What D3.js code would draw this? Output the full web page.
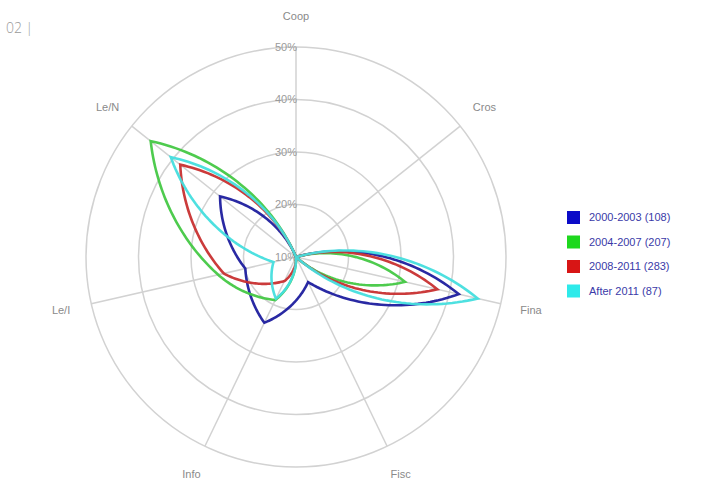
<!DOCTYPE html>
<html><head><meta charset="utf-8">
<script src="https://cdn.jsdelivr.net/npm/d3@7"></script>
<style>body{margin:0;background:#fff}svg{display:block}</style>
</head><body>
<svg id="chart" width="712" height="484"></svg>
<script>
const categories = ["Coop","Cros","Fina","Fisc","Info","Le/I","Le/N"];
const seriesNames = ["2000-2003 (108)","2004-2007 (207)","2008-2011 (283)","After 2011 (87)"];
const blueVals  = [10,10,41.8,15.3,23.9,19.9,28.5];
const greenVals = [10,10,31.3,10,19.1,25.2,45.4];
const redVals   = [10,10,37.6,10,15.1,24.1,38.2];
const cyanVals  = [10,10,45.5,10,18.8,14.4,40.5];
const ringTicks = [10,20,30,40,50];
const lineColors = ["#1d1d9e","#45c845","#c83030","#45dede"];
const swatchColors = ["#0b0bc8","#1ed81e","#d81515","#2eeaea"];

const svg = d3.select("#chart");
const cx = 296, cy = 257;
const rScale = d3.scaleLinear().domain([10,50]).range([0,210]);
const aScale = d3.scaleLinear().domain([0,categories.length]).range([0,2*Math.PI]);
const g = svg.append("g").attr("transform",`translate(${cx},${cy})`);

// page marker
svg.append("text").attr("x",6).attr("y",33).text("02 |")
  .attr("font-family","Open Sans").attr("font-weight",300).attr("font-size",14).attr("fill","#9a9a9a");

// rings
g.selectAll("circle.ring").data(ringTicks.filter(d=>rScale(d)>0)).join("circle")
  .attr("r",d=>rScale(d)).attr("fill","none").attr("stroke","#d2d2d2").attr("stroke-width",1.5);
// spokes
g.selectAll("line.spoke").data(categories).join("line")
  .attr("x1",0).attr("y1",0)
  .attr("x2",(d,i)=>rScale(50)*Math.sin(aScale(i)))
  .attr("y2",(d,i)=>-rScale(50)*Math.cos(aScale(i)))
  .attr("stroke","#d2d2d2").attr("stroke-width",1.5);
// ring labels
g.selectAll("text.tick").data(ringTicks).join("text")
  .attr("x",1).attr("y",d=>-rScale(d)).attr("dy","0.35em")
  .attr("text-anchor","end").attr("font-family","Liberation Sans, Arial, sans-serif")
  .attr("font-size",11).attr("fill","#9a9a9a").text(d=>d+"%");
// axis labels
g.selectAll("text.cat").data(categories).join("text")
  .attr("x",(d,i)=>241*Math.sin(aScale(i)))
  .attr("y",(d,i)=>-241*Math.cos(aScale(i)))
  .attr("dy","0.35em").attr("text-anchor","middle")
  .attr("font-family","Liberation Sans, Arial, sans-serif").attr("font-size",11)
  .attr("fill","#8a8a8a").text(d=>d);

// series path: blend of polar (spiral) and straight interpolation between axis points
const allSeries = [blueVals, greenVals, redVals, cyanVals];
const w = 0.55, N = 40;
function seriesPoints(vals){
  const pts = [];
  const n = vals.length;
  for(let i=0;i<n;i++){
    const a0 = aScale(i), a1 = aScale(i+1);
    const r0 = rScale(vals[i]), r1 = rScale(vals[(i+1)%n]);
    const p0 = [r0*Math.sin(a0), -r0*Math.cos(a0)];
    const p1 = [r1*Math.sin(a1), -r1*Math.cos(a1)];
    for(let k=0;k<N;k++){
      const t = k/N;
      const a = a0+(a1-a0)*t, r = r0+(r1-r0)*t;
      const sx = r*Math.sin(a), sy = -r*Math.cos(a);
      const lx = p0[0]+(p1[0]-p0[0])*t, ly = p0[1]+(p1[1]-p0[1])*t;
      pts.push([w*sx+(1-w)*lx, w*sy+(1-w)*ly]);
    }
  }
  return pts;
}
const line = d3.line().curve(d3.curveLinearClosed);
g.selectAll("path.series").data(allSeries).join("path")
  .attr("d",d=>line(seriesPoints(d)))
  .attr("fill","none").attr("stroke",(d,i)=>lineColors[i])
  .attr("stroke-width",2.6).attr("stroke-linejoin","miter").attr("stroke-opacity",0.95);

// legend
const lg = svg.append("g").attr("transform","translate(567,211)");
const items = lg.selectAll("g").data(seriesNames).join("g")
  .attr("transform",(d,i)=>`translate(0,${i*24.5})`);
items.append("rect").attr("width",13).attr("height",13).attr("fill",(d,i)=>swatchColors[i]);
items.append("text").attr("x",22).attr("y",6.5).attr("dy","0.35em")
  .attr("font-family","Liberation Sans, Arial, sans-serif").attr("font-size",11)
  .attr("fill","#3a3aa8").text(d=>d);
</script>
</body></html>
